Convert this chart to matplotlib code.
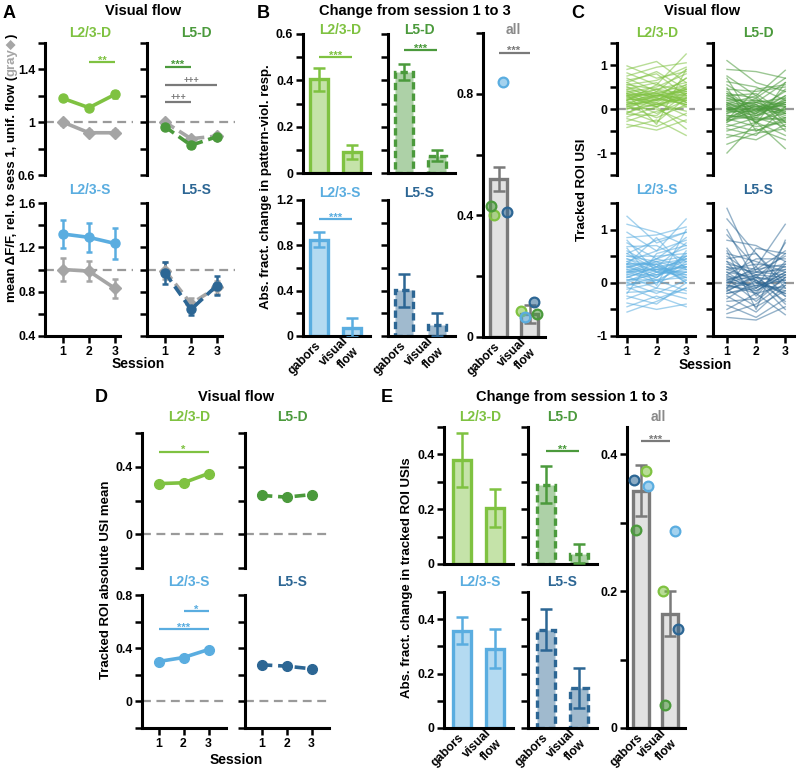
import numpy as np
import matplotlib.pyplot as plt
from matplotlib.colors import to_rgba

plt.rcParams['font.family'] = ['Liberation Sans', 'DejaVu Sans']
plt.rcParams['font.weight'] = 'bold'

W, H = 798, 777
fig = plt.figure(figsize=(W / 100, H / 100), dpi=100)

# colours
LG = '#7fc241'   # L2/3-D
DG = '#4b9a3c'   # L5-D
LB = '#5aade0'   # L2/3-S
DB = '#2c6694'   # L5-S
GR = '#a5a5a5'
DGR = '#7a7a7a'
DASH = '#9a9a9a'

sessions = [1, 2, 3]
bar_names = ['gabors', 'visual\nflow']

# ---- A: mean dF/F rel. to sess 1 (colour: pattern-violation, gray: unif. flow)
a_l23d = [1.18, 1.11, 1.21]
a_l23d_err = [0.015, 0.015, 0.03]
a_l23d_gray = [1.0, 0.92, 0.92]
a_l23d_gray_err = [0.02, 0.02, 0.02]
a_l5d = [0.965, 0.825, 0.89]
a_l5d_err = [0.02, 0.02, 0.02]
a_l5d_gray = [1.0, 0.875, 0.895]
a_l5d_gray_err = [0.01, 0.01, 0.01]
a_l23s = [1.32, 1.29, 1.235]
a_l23s_err = [0.13, 0.13, 0.14]
a_l23s_gray = [1.0, 0.985, 0.83]
a_l23s_gray_err = [0.1, 0.09, 0.085]
a_l5s = [0.97, 0.64, 0.855]
a_l5s_err = [0.1, 0.05, 0.085]
a_l5s_gray = [0.99, 0.69, 0.84]
a_l5s_gray_err = [0.08, 0.05, 0.06]

# ---- B: abs. fract. change in pattern-viol. resp. (gabors, visual flow)
b_l23d = [0.405, 0.09]
b_l23d_err = [0.05, 0.03]
b_l5d = [0.435, 0.075]
b_l5d_err = [0.035, 0.025]
b_l23s = [0.85, 0.075]
b_l23s_err = [0.065, 0.08]
b_l5s = [0.405, 0.1]
b_l5s_err = [0.145, 0.1]
b_all = [0.52, 0.075]
b_all_err = [0.04, 0.03]
b_all_gab = [0.40, 0.43, 0.84, 0.41]   # L2/3-D, L5-D, L2/3-S, L5-S
b_all_vf = [0.085, 0.075, 0.065, 0.115]

# ---- C: tracked ROI USIs (session 1, 2, 3)
c_l23d = [
    (0.98, 0.70, 0.85), (0.90, 1.08, 0.60), (0.82, 0.55, 1.25), (0.75, 0.95, 1.05),
    (0.70, 0.40, 0.90), (0.65, 0.80, 0.30), (0.60, 0.25, 0.70), (0.55, 0.65, 0.95),
    (0.50, 0.35, 0.55), (0.45, 0.60, 0.15), (0.42, 0.10, 0.45), (0.38, 0.50, 0.80),
    (0.35, 0.30, 0.25), (0.30, 0.45, 0.60), (0.28, 0.05, 0.35), (0.25, 0.38, 0.05),
    (0.22, 0.20, 0.50), (0.20, 0.55, 0.40), (0.18, -0.10, 0.20), (0.15, 0.28, 0.70),
    (0.12, 0.15, -0.15), (0.10, 0.40, 0.30), (0.08, -0.20, 0.10), (0.05, 0.22, 0.45),
    (0.02, 0.00, -0.30), (0.00, 0.32, 0.15), (-0.05, -0.30, 0.25), (-0.08, 0.12, -0.05),
    (-0.12, -0.15, 0.35), (-0.18, 0.05, -0.45), (-0.22, -0.40, -0.10), (-0.28, -0.05, 0.05),
    (-0.35, -0.48, -0.25), (-0.42, -0.25, -0.60), (0.60, 0.85, 0.45), (0.33, -0.35, 0.90),
    (0.45, 0.30, 0.40), (0.35, 0.20, 0.55), (0.30, 0.35, 0.20), (0.25, 0.10, 0.30),
    (0.20, 0.30, 0.45), (0.15, 0.05, 0.25), (0.40, 0.25, 0.10), (0.10, 0.20, 0.35),
    (0.05, 0.35, 0.10), (0.30, 0.15, 0.50), (0.55, 0.45, 0.35), (0.00, 0.10, 0.25),
    (0.20, 0.45, 0.15), (0.35, 0.05, 0.40), (0.50, 0.20, 0.20), (-0.10, 0.25, 0.10),
]
c_l5d = [
    (1.10, 0.60, 0.40), (0.90, 0.85, 0.70), (0.75, 0.30, 0.88), (0.62, 0.50, 0.20),
    (0.55, 0.15, 0.60), (0.45, 0.40, 0.50), (0.40, -0.05, 0.30), (0.35, 0.25, 0.70),
    (0.30, 0.35, -0.10), (0.25, 0.00, 0.40), (0.20, 0.20, 0.10), (0.15, -0.20, 0.25),
    (0.12, 0.30, -0.30), (0.08, 0.05, 0.15), (0.05, -0.10, 0.45), (0.02, 0.15, -0.05),
    (0.00, -0.30, 0.05), (-0.03, 0.10, -0.20), (-0.06, -0.05, 0.20), (-0.10, 0.25, -0.40),
    (-0.14, -0.25, -0.10), (-0.18, 0.00, 0.10), (-0.22, -0.40, -0.30), (-0.26, -0.15, 0.00),
    (-0.30, 0.10, -0.50), (-0.35, -0.50, -0.20), (-0.40, -0.20, -0.40), (-0.45, -0.60, 0.05),
    (-0.50, -0.30, -0.60), (-0.58, -0.70, -0.35), (-0.65, -0.45, -0.70), (-0.80, -0.55, -0.45),
    (-1.00, -0.30, -0.90), (0.70, -0.35, 0.60), (-0.25, 0.45, 0.55), (0.48, -0.50, -0.25),
    (0.20, -0.05, 0.10), (0.10, 0.15, -0.10), (0.00, -0.15, 0.20), (-0.10, 0.05, -0.05),
    (0.25, 0.10, -0.15), (-0.20, -0.10, 0.15), (0.05, -0.25, -0.20), (-0.05, 0.20, 0.05),
    (0.15, -0.10, 0.30), (-0.15, -0.20, -0.25), (0.30, 0.05, 0.05), (-0.30, 0.00, -0.10),
    (0.10, -0.30, 0.00), (-0.25, 0.15, 0.25), (0.00, 0.00, -0.30), (0.35, -0.15, 0.15),
]
c_l23s = [
    (1.25, 0.75, 0.95), (1.10, 0.95, 0.70), (0.95, 0.60, 1.20), (0.85, 0.90, 1.05),
    (0.75, 0.45, 0.85), (0.68, 0.70, 0.40), (0.60, 0.30, 0.75), (0.55, 0.80, 0.95),
    (0.50, 0.50, 0.55), (0.45, 0.20, 0.30), (0.40, 0.60, 0.80), (0.36, 0.35, 0.10),
    (0.32, 0.10, 0.50), (0.28, 0.45, 0.65), (0.25, 0.25, 0.20), (0.22, 0.00, 0.40),
    (0.18, 0.40, 0.00), (0.15, 0.15, 0.35), (0.12, -0.10, 0.60), (0.10, 0.30, 0.15),
    (0.06, 0.05, -0.15), (0.03, 0.25, 0.30), (0.00, -0.20, 0.05), (-0.04, 0.10, 0.45),
    (-0.08, -0.30, -0.10), (-0.12, 0.00, 0.20), (-0.18, -0.15, -0.30), (-0.25, -0.40, 0.00),
    (-0.30, -0.10, -0.20), (-0.38, -0.50, -0.40), (-0.45, -0.25, -0.45), (-0.55, -0.35, -0.10),
    (0.80, 0.20, 0.50), (0.35, 0.85, 0.25), (0.65, -0.05, 1.00), (-0.20, 0.55, 0.70),
    (0.45, 0.30, 0.40), (0.35, 0.15, 0.25), (0.30, 0.40, 0.50), (0.20, 0.25, 0.10),
    (0.15, 0.35, 0.45), (0.25, 0.05, 0.30), (0.40, 0.20, 0.15), (0.05, 0.15, 0.35),
    (0.50, 0.40, 0.25), (0.10, 0.30, 0.05), (0.30, 0.10, 0.55), (0.00, 0.20, 0.20),
    (0.55, 0.25, 0.45), (0.20, 0.45, 0.30), (-0.05, 0.05, 0.10), (0.35, 0.35, 0.00),
]
c_l5s = [
    (1.40, 0.20, 0.50), (1.20, 0.55, -0.10), (0.90, 0.30, 1.10), (0.80, 0.70, 0.40),
    (0.65, -0.10, 0.75), (0.55, 0.40, 0.20), (0.50, 0.10, 0.55), (0.45, 0.55, 0.00),
    (0.40, -0.25, 0.35), (0.35, 0.25, 0.60), (0.30, 0.00, -0.20), (0.25, 0.35, 0.30),
    (0.20, -0.15, 0.15), (0.15, 0.45, 0.45), (0.12, 0.05, -0.35), (0.08, -0.35, 0.10),
    (0.05, 0.20, 0.25), (0.02, -0.05, -0.10), (0.00, 0.30, -0.25), (-0.04, -0.20, 0.40),
    (-0.08, 0.10, 0.05), (-0.12, -0.45, -0.15), (-0.16, 0.15, -0.40), (-0.20, -0.10, 0.20),
    (-0.25, -0.55, -0.05), (-0.30, 0.05, -0.50), (-0.35, -0.30, 0.10), (-0.42, -0.65, -0.30),
    (-0.50, -0.20, -0.60), (-0.58, -0.40, 0.00), (-0.65, -0.70, -0.45), (0.60, -0.50, 0.80),
    (-0.10, 0.65, 0.55), (1.00, 0.00, 0.25),
    (0.20, 0.10, 0.00), (0.10, -0.10, 0.20), (0.00, 0.15, 0.10), (-0.10, 0.00, -0.15),
    (0.30, 0.20, 0.15), (-0.20, -0.05, 0.05), (0.15, -0.20, -0.05), (0.05, 0.25, 0.35),
    (-0.05, -0.15, 0.15), (0.25, 0.05, -0.20), (0.40, 0.15, 0.30), (-0.15, 0.10, -0.25),
]

# ---- D: tracked ROI absolute USI mean
d_l23d = [0.30, 0.305, 0.36]
d_l5d = [0.23, 0.22, 0.235]
d_l23s = [0.30, 0.33, 0.39]
d_l5s = [0.275, 0.265, 0.245]

# ---- E: abs. fract. change in tracked ROI USIs
e_l23d = [0.38, 0.205]
e_l23d_err = [0.098, 0.07]
e_l5d = [0.29, 0.037]
e_l5d_err = [0.067, 0.035]
e_l23s = [0.358, 0.291]
e_l23s_err = [0.05, 0.072]
e_l5s = [0.362, 0.147]
e_l5s_err = [0.075, 0.074]
e_all = [0.347, 0.167]
e_all_err = [0.037, 0.033]
e_all_gab = [0.375, 0.29, 0.354, 0.363]
e_all_vf = [0.20, 0.034, 0.288, 0.144]

grp_colors = [LG, DG, LB, DB]


def px_axes(x0, y0, x1, y1):
    return fig.add_axes([x0 / W, 1 - y1 / H, (x1 - x0) / W, (y1 - y0) / H])


def ftext(x, y, s, **kw):
    kw.setdefault('ha', 'center')
    kw.setdefault('va', 'center')
    return fig.text(x / W, 1 - y / H, s, **kw)


def style(ax, xlim, ylim, yticks, ylabels, bottom=True):
    ax.set_xlim(*xlim)
    ax.set_ylim(*ylim)
    ax.patch.set_alpha(0)
    for s in ['top', 'right']:
        ax.spines[s].set_visible(False)
    for s in ['left', 'bottom']:
        ax.spines[s].set_linewidth(2.2)
        ax.spines[s].set_capstyle('projecting')
    ax.set_yticks(yticks)
    ax.set_yticklabels(ylabels)
    ax.tick_params(direction='out', length=5, width=1.8, labelsize=8.8, pad=2)
    if not bottom:
        ax.spines['bottom'].set_visible(False)
        ax.set_xticks([])


def sig(ax, x1, x2, y, txt, color):
    ax.plot([x1, x2], [y, y], color=color, lw=1.6, solid_capstyle='butt')
    off = 0.5 if '+' in txt else -2.5
    ax.annotate(txt, xy=((x1 + x2) / 2, y), xytext=(0, off), textcoords='offset points',
                color=color, ha='center', va='bottom', fontsize=8 if '*' in txt else 6.5)


def sess_line(ax, y, err, color, dashed, marker='o', ms=6.5, z=3):
    ls = (0, (3, 1.6)) if dashed else '-'
    ax.errorbar(sessions, y, yerr=err, color=color, lw=2.6, ls=ls, marker=marker,
                ms=ms, capsize=2.5, elinewidth=1.8, capthick=1.8, zorder=z)


def bars(ax, vals, err, color, dashed, face=None):
    face = to_rgba(color, 0.45) if face is None else face
    ax.bar([0, 1], vals, width=0.55, facecolor=face, edgecolor=color, lw=2.4,
           linestyle=(0, (2.2, 1.2)) if dashed else '-', zorder=2)
    ax.errorbar([0, 1], vals, yerr=err, fmt='none', ecolor=color, elinewidth=1.8,
                capsize=4.5, capthick=1.8, zorder=3)


def bar_xlabels(ax):
    ax.set_xticks([0, 1])
    ax.set_xticklabels(bar_names, fontsize=8.8)
    ax.tick_params(axis='x', length=0, pad=6)
    for lab in ax.get_xticklabels():
        lab.set_rotation(45)
        lab.set_rotation_mode('anchor')
        lab.set_ha('right')
        lab.set_va('center')


def all_dots(ax, gab, vf, gab_off, vf_off):
    for k, c in enumerate(grp_colors):
        ax.plot(gab_off[k], gab[k], 'o', ms=7, mfc=to_rgba(c, 0.55), mec=c, mew=1.6, zorder=4)
        ax.plot(1 + vf_off[k], vf[k], 'o', ms=7, mfc=to_rgba(c, 0.55), mec=c, mew=1.6, zorder=4)


# ====================== A ======================
xl_a = (0.3, 3.7)
yt_top = [0.6, 0.8, 1.0, 1.2, 1.4, 1.6]
yl_top = ['0.6', '', '1', '', '1.4', '']
yt_bot = [0.4, 0.6, 0.8, 1.0, 1.2, 1.4, 1.6]
yl_bot = ['0.4', '', '0.8', '', '1.2', '', '1.6']

ax = px_axes(45, 43, 133, 175)
style(ax, xl_a, (0.6, 1.6), yt_top, yl_top, bottom=False)
ax.axhline(1, color=DASH, lw=1.6, ls=(0, (4, 2.5)), zorder=0)
sess_line(ax, a_l23d_gray, a_l23d_gray_err, GR, False, marker='D', ms=6)
sess_line(ax, a_l23d, a_l23d_err, LG, False)
sig(ax, 2, 3, 1.455, '**', LG)

ax = px_axes(147, 43, 235, 175)
style(ax, xl_a, (0.6, 1.6), yt_top, [''] * 6, bottom=False)
ax.axhline(1, color=DASH, lw=1.6, ls=(0, (4, 2.5)), zorder=0)
sess_line(ax, a_l5d_gray, a_l5d_gray_err, GR, True, marker='D', ms=6)
sess_line(ax, a_l5d, a_l5d_err, DG, True)
sig(ax, 1, 2, 1.42, '***', DG)
sig(ax, 1, 3, 1.28, '+++', DGR)
sig(ax, 1, 2, 1.15, '+++', DGR)

ax = px_axes(45, 203, 133, 336)
style(ax, xl_a, (0.4, 1.6), yt_bot, yl_bot)
ax.spines['bottom'].set_bounds(0.3, 3.2)
ax.set_xticks(sessions)
ax.axhline(1, color=DASH, lw=1.6, ls=(0, (4, 2.5)), zorder=0)
sess_line(ax, a_l23s_gray, a_l23s_gray_err, GR, False, marker='D', ms=6)
sess_line(ax, a_l23s, a_l23s_err, LB, False)

ax = px_axes(147, 203, 235, 336)
style(ax, xl_a, (0.4, 1.6), yt_bot, [''] * 7)
ax.spines['bottom'].set_bounds(0.3, 3.2)
ax.set_xticks(sessions)
ax.axhline(1, color=DASH, lw=1.6, ls=(0, (4, 2.5)), zorder=0)
sess_line(ax, a_l5s_gray, a_l5s_gray_err, GR, True, marker='D', ms=6)
sess_line(ax, a_l5s, a_l5s_err, DB, True)

ftext(9, 13, 'A', fontsize=13)
ftext(143, 11, 'Visual flow', fontsize=10.5)
ftext(90, 33, 'L2/3-D', color=LG, fontsize=10)
ftext(196, 33, 'L5-D', color=DG, fontsize=10)
ftext(90, 190, 'L2/3-S', color=LB, fontsize=10)
ftext(196, 190, 'L5-S', color=DB, fontsize=10)
ftext(138, 364, 'Session', fontsize=10)

# y label with gray part
t1 = fig.text(12 / W, 1 - 302 / H, 'mean \u0394F/F, rel. to sess 1, unif. flow (',
              rotation=90, ha='center', va='bottom', fontsize=9.5)
t2 = fig.text(0, 0, 'gray\u25C6', rotation=90, ha='center', va='bottom', fontsize=9.5, color=GR)
t3 = fig.text(0, 0, ')', rotation=90, ha='center', va='bottom', fontsize=9.5)
fig.canvas.draw()
r = fig.canvas.get_renderer()
bb1 = t1.get_window_extent(r)
t2.set_position((12 / W, bb1.y1 / fig.bbox.height))
bb2 = t2.get_window_extent(r)
t3.set_position((12 / W, bb2.y1 / fig.bbox.height))

# ====================== B ======================
xl_b = (-0.48, 1.55)
ax = px_axes(303, 34, 370, 173)
style(ax, xl_b, (0, 0.6), [0, 0.1, 0.2, 0.3, 0.4, 0.5, 0.6],
      ['0', '', '0.2', '', '0.4', '', '0.6'])
ax.set_xticks([])
bars(ax, b_l23d, b_l23d_err, LG, False)
sig(ax, 0, 1, 0.5, '***', LG)

ax = px_axes(388, 34, 455, 173)
style(ax, xl_b, (0, 0.6), [0, 0.1, 0.2, 0.3, 0.4, 0.5, 0.6], [''] * 7)
ax.set_xticks([])
bars(ax, b_l5d, b_l5d_err, DG, True)
sig(ax, 0, 1, 0.53, '***', DG)

yt_bb = [0, 0.2, 0.4, 0.6, 0.8, 1.0, 1.2]
ax = px_axes(303, 200, 370, 336)
style(ax, xl_b, (0, 1.2), yt_bb, ['0', '', '0.4', '', '0.8', '', '1.2'])
bars(ax, b_l23s, b_l23s_err, LB, False)
bar_xlabels(ax)
sig(ax, 0, 1, 1.03, '***', LB)

ax = px_axes(388, 200, 455, 336)
style(ax, xl_b, (0, 1.2), yt_bb, [''] * 7)
bars(ax, b_l5s, b_l5s_err, DB, True)
bar_xlabels(ax)

ax = px_axes(483, 33, 545, 337)
style(ax, (-0.5, 1.5), (0, 1.0), [0, 0.2, 0.4, 0.6, 0.8, 1.0],
      ['0', '', '0.4', '', '0.8', ''])
bars(ax, b_all, b_all_err, DGR, False, face='#e2e2e2')
all_dots(ax, b_all_gab, b_all_vf, [-0.16, -0.23, 0.13, 0.26], [-0.26, 0.23, -0.16, 0.16])
bar_xlabels(ax)
sig(ax, 0, 1, 0.935, '***', DGR)

ftext(263, 13, 'B', fontsize=13)
ftext(415, 11, 'Change from session 1 to 3', fontsize=10.5)
ftext(340, 30, 'L2/3-D', color=LG, fontsize=10)
ftext(419, 30, 'L5-D', color=DG, fontsize=10)
ftext(340, 193, 'L2/3-S', color=LB, fontsize=10)
ftext(419, 193, 'L5-S', color=DB, fontsize=10)
ftext(513, 30, 'all', color='#8a8a8a', fontsize=10)
ftext(266, 187, 'Abs. fract. change in pattern-viol. resp.', rotation=90, fontsize=9.5)


# ====================== C ======================
def usi_panel(ax, rois, color, alpha):
    ax.axhline(0, color=DASH, lw=1.6, ls=(0, (4, 2.5)), zorder=0)
    ax.plot(sessions, np.array(rois).T, color=color, lw=1.0, alpha=alpha, zorder=2)


yt_c1 = [-1.5, -1, -0.5, 0, 0.5, 1, 1.5]
yl_c1 = ['', '-1', '', '0', '', '1', '']
yt_c2 = [-1, -0.5, 0, 0.5, 1, 1.5]
yl_c2 = ['-1', '', '0', '', '1', '']

ax = px_axes(617, 43, 695, 175)
style(ax, (0.66, 3.3), (-1.5, 1.5), yt_c1, yl_c1, bottom=False)
usi_panel(ax, c_l23d, LG, 0.55)
ax = px_axes(713, 43, 794, 175)
style(ax, (0.52, 3.3), (-1.5, 1.5), yt_c1, [''] * 7, bottom=False)
usi_panel(ax, c_l5d, DG, 0.55)
ax = px_axes(617, 203, 695, 336)
style(ax, (0.66, 3.3), (-1, 1.5), yt_c2, yl_c2)
ax.set_xticks(sessions)
usi_panel(ax, c_l23s, LB, 0.55)
ax = px_axes(713, 203, 794, 336)
style(ax, (0.52, 3.3), (-1, 1.5), yt_c2, [''] * 6)
ax.set_xticks(sessions)
usi_panel(ax, c_l5s, DB, 0.5)

ftext(578, 13, 'C', fontsize=13)
ftext(702, 11, 'Visual flow', fontsize=10.5)
ftext(657, 33, 'L2/3-D', color=LG, fontsize=10)
ftext(758, 33, 'L5-D', color=DG, fontsize=10)
ftext(657, 190, 'L2/3-S', color=LB, fontsize=10)
ftext(758, 190, 'L5-S', color=DB, fontsize=10)
ftext(705, 365, 'Session', fontsize=10)
ftext(582, 190, 'Tracked ROI USI', rotation=90, fontsize=9.5)

# ====================== D ======================
xl_d = (0.34, 3.7)
yt_d1 = [-0.2, 0, 0.2, 0.4, 0.6]
yt_d2 = [-0.2, 0, 0.2, 0.4, 0.6, 0.8]


def abs_panel(ax, y, color, dashed):
    ax.axhline(0, color=DASH, lw=1.6, ls=(0, (4, 2.5)), zorder=0)
    ax.plot(sessions, y, color=color, lw=2.6, ls=(0, (3, 1.6)) if dashed else '-',
            marker='o', ms=7)


ax = px_axes(142, 433, 226, 568)
style(ax, xl_d, (-0.2, 0.6), yt_d1, ['', '0', '', '0.4', ''], bottom=False)
abs_panel(ax, d_l23d, LG, False)
sig(ax, 1, 3, 0.49, '*', LG)
ax = px_axes(245, 433, 329, 568)
style(ax, xl_d, (-0.2, 0.6), yt_d1, [''] * 5, bottom=False)
abs_panel(ax, d_l5d, DG, True)
ax = px_axes(142, 595, 226, 728)
style(ax, xl_d, (-0.2, 0.8), yt_d2, ['', '0', '', '0.4', '', '0.8'])
ax.set_xticks(sessions)
abs_panel(ax, d_l23s, LB, False)
sig(ax, 1, 3, 0.545, '***', LB)
sig(ax, 2, 3, 0.68, '*', LB)
ax = px_axes(245, 595, 329, 728)
style(ax, xl_d, (-0.2, 0.8), yt_d2, [''] * 6)
ax.set_xticks(sessions)
abs_panel(ax, d_l5s, DB, True)

ftext(101, 397, 'D', fontsize=13)
ftext(236, 397, 'Visual flow', fontsize=10.5)
ftext(189, 417, 'L2/3-D', color=LG, fontsize=10)
ftext(292, 417, 'L5-D', color=DG, fontsize=10)
ftext(189, 582, 'L2/3-S', color=LB, fontsize=10)
ftext(292, 582, 'L5-S', color=DB, fontsize=10)
ftext(236, 760, 'Session', fontsize=10)
ftext(106, 580, 'Tracked ROI absolute USI mean', rotation=90, fontsize=9.5)

# ====================== E ======================
xl_e = (-0.55, 1.55)
yt_e = [0, 0.1, 0.2, 0.3, 0.4, 0.5]
yl_e = ['0', '', '0.2', '', '0.4', '']

ax = px_axes(444, 427, 513, 564)
style(ax, xl_e, (0, 0.5), yt_e, yl_e)
ax.set_xticks([])
bars(ax, e_l23d, e_l23d_err, LG, False)
ax = px_axes(528, 427, 597, 564)
style(ax, xl_e, (0, 0.5), yt_e, [''] * 6)
ax.set_xticks([])
bars(ax, e_l5d, e_l5d_err, DG, True)
sig(ax, 0, 1, 0.412, '**', DG)
ax = px_axes(444, 592, 513, 728)
style(ax, xl_e, (0, 0.5), yt_e, yl_e)
bars(ax, e_l23s, e_l23s_err, LB, False)
bar_xlabels(ax)
ax = px_axes(528, 592, 597, 728)
style(ax, xl_e, (0, 0.5), yt_e, [''] * 6)
bars(ax, e_l5s, e_l5s_err, DB, True)
bar_xlabels(ax)

ax = px_axes(627, 427, 685, 728)
style(ax, (-0.48, 1.52), (0, 0.44), [0, 0.1, 0.2, 0.3, 0.4], ['0', '', '0.2', '', '0.4'])
bars(ax, e_all, e_all_err, DGR, False, face='#e2e2e2')
all_dots(ax, e_all_gab, e_all_vf, [0.17, -0.17, 0.24, -0.24], [-0.24, -0.17, 0.17, 0.28])
bar_xlabels(ax)
sig(ax, 0, 1, 0.419, '***', DGR)

ftext(387, 397, 'E', fontsize=13)
ftext(572, 397, 'Change from session 1 to 3', fontsize=10.5)
ftext(480, 417, 'L2/3-D', color=LG, fontsize=10)
ftext(562, 417, 'L5-D', color=DG, fontsize=10)
ftext(480, 582, 'L2/3-S', color=LB, fontsize=10)
ftext(562, 582, 'L5-S', color=DB, fontsize=10)
ftext(658, 417, 'all', color='#8a8a8a', fontsize=10)
ftext(407, 578, 'Abs. fract. change in tracked ROI USIs', rotation=90, fontsize=9.5)

fig.savefig('out.png', dpi=100)
